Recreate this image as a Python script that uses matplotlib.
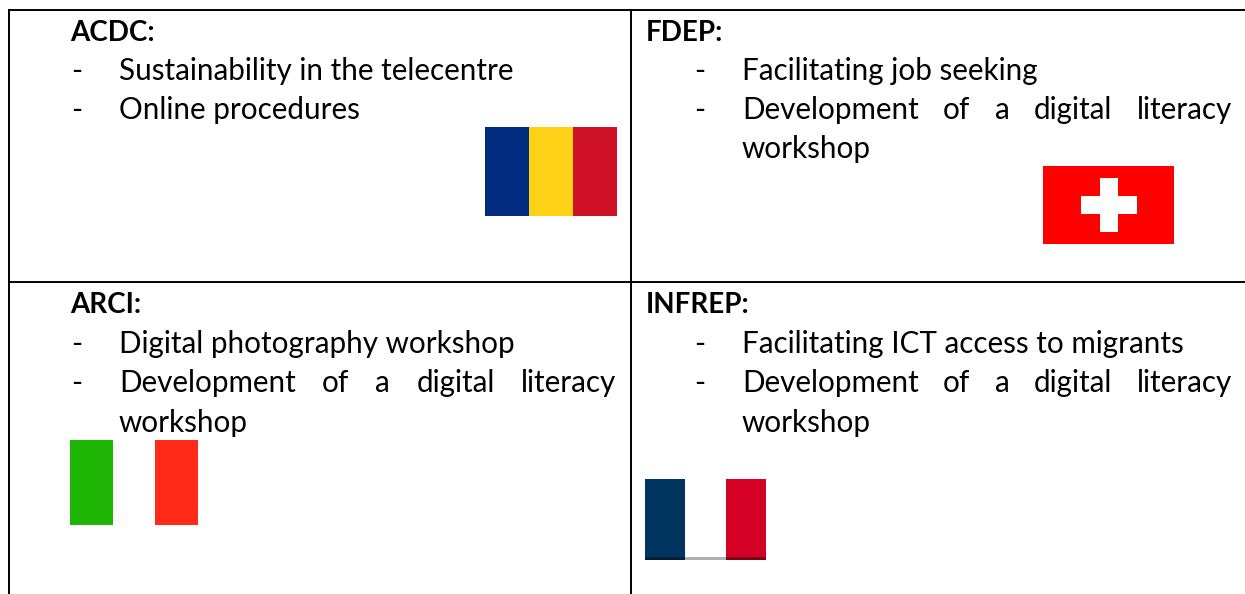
"""Four-cell partner table with flags."""
import matplotlib
matplotlib.use("Agg")
import matplotlib.pyplot as plt
from matplotlib.patches import Rectangle

W, H = 1245, 594

names = ["ACDC:", "FDEP:", "ARCI:", "INFREP:"]
name_x = [70, 646, 70, 646]
name_y = [33, 33, 305, 305]

# (text, x, y)
bullets = [
    ("Sustainability in the telecentre", 119, 71),
    ("Online procedures", 119, 110),
    ("Facilitating job seeking", 742, 71),
    ("workshop", 742, 149),
    ("Digital photography workshop", 119, 344),
    ("workshop", 119, 423),
    ("Facilitating ICT access to migrants", 742, 344),
    ("workshop", 742, 423),
]
dashes = [(71, 71), (71, 110), (694, 71), (694, 110), (71, 344), (71, 383), (694, 344), (694, 383)]

# justified line: words spread between left and right edge
just_words = ["Development", "of", "a", "digital", "literacy"]
just_lines = [(119, 616, 383), (742, 1232, 110), (742, 1232, 383)]

# flags: x, y, w, h, colours
flags = [
    (485, 127, 132, 89, ["#002b7f", "#fcd116", "#ce1126"]),
    (70, 440, 128, 85, ["#1fb505", "#ffffff", "#ff2a18"]),
    (645, 479, 121, 78, ["#00355f", "#ffffff", "#d50026"]),
]
france_shadow = ["#001f3a", "#b0b0b0", "#7a0015"]
swiss = (1043, 166, 131, 78)

plt.rcParams["font.family"] = ["Lato", "DejaVu Sans"]
fig = plt.figure(figsize=(W / 100, H / 100), dpi=100)
ax = fig.add_axes([0, 0, 1, 1])
ax.set_xlim(0, W)
ax.set_ylim(H, 0)
ax.axis("off")

fs = 21.3
fs_bold = 20.0

# table lines
ax.plot([9, 1245], [10, 10], color="black", lw=1.4)
ax.plot([9, 1245], [282, 282], color="black", lw=1.4)
ax.plot([9, 9], [10, 594], color="black", lw=1.4)
ax.plot([631, 631], [10, 594], color="black", lw=1.4)

for n, x, y in zip(names, name_x, name_y):
    ax.text(x, y, n, fontsize=fs_bold, fontweight="bold", va="center", ha="left")
for t, x, y in bullets:
    ax.text(x, y, t, fontsize=fs, va="center", ha="left")
for x, y in dashes:
    ax.text(x, y, "-", fontsize=fs, va="center", ha="left")

fig.canvas.draw()
rend = fig.canvas.get_renderer()
for x0, x1, y in just_lines:
    # measure words, spread the leftover space evenly
    probes = [ax.text(0, 0, w, fontsize=fs) for w in just_words]
    widths = [p.get_window_extent(rend).width for p in probes]
    for p in probes:
        p.remove()
    gap = (x1 - x0 - sum(widths)) / (len(just_words) - 1)
    cx = x0
    for w, wd in zip(just_words, widths):
        ax.text(cx, y, w, fontsize=fs, va="center", ha="left")
        cx += wd + gap

for x, y, w, h, cols in flags:
    for i, c in enumerate(cols):
        ax.add_patch(Rectangle((x + i * w / 3, y), w / 3, h, color=c, lw=0))

# dark strip along the bottom edge of the French flag
x, y, w, h, _ = flags[2]
for i, c in enumerate(france_shadow):
    ax.add_patch(Rectangle((x + i * w / 3, y + h), w / 3, 3, color=c, lw=0))

x, y, w, h = swiss
ax.add_patch(Rectangle((x, y), w, h, color="#ff0000", lw=0))
ax.add_patch(Rectangle((1081, 196), 56, 18, color="white", lw=0))
ax.add_patch(Rectangle((1100, 178), 18, 54, color="white", lw=0))

fig.savefig("out.png", dpi=100)
